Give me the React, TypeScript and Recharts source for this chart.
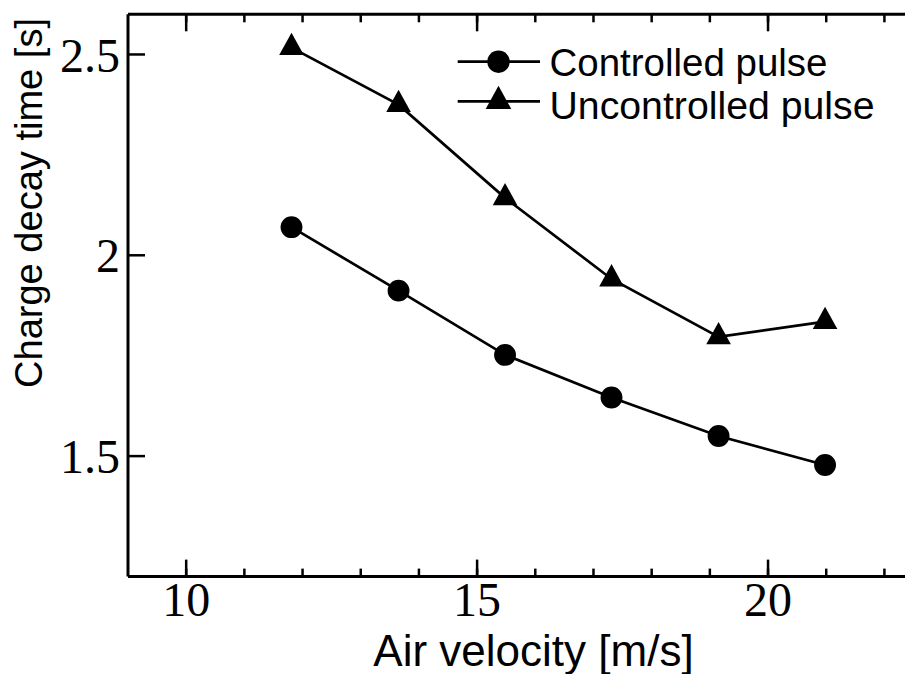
import React from 'react';
import { LineChart, Line, XAxis, YAxis, Legend } from 'recharts';

// values
const velocity = [11.81, 13.65, 15.48, 17.31, 19.15, 20.98];
const controlledPulse = [2.07, 1.912, 1.752, 1.646, 1.55, 1.478];
const uncontrolledPulse = [2.517, 2.375, 2.143, 1.941, 1.797, 1.835];

const xMajorTicks = [10, 15, 20];
const xMinorTicks = [10, 11, 12, 13, 14, 15, 16, 17, 18, 19, 20, 21, 22];
const yMajorTicks = [1.5, 2, 2.5];
const yMinorTicks = [1.3, 1.4, 1.5, 1.6, 1.7, 1.8, 1.9, 2, 2.1, 2.2, 2.3, 2.4, 2.5];

const data = velocity.map((v, i) => ({
  velocity: v,
  controlled: controlledPulse[i],
  uncontrolled: uncontrolledPulse[i],
}));

const W = 940;
const H = 674;
// every axis takes 1px, two per side
const margin = { top: 14.3 - 2, right: W - 913.5 - 2, bottom: H - 576.6 - 2, left: 128 - 2 };

const SANS = '"Liberation Sans", Arial, sans-serif';
const SERIF = '"Liberation Serif", "Times New Roman", serif';

const axisLine = { stroke: '#000', strokeWidth: 3 };
const tickLine = { stroke: '#000', strokeWidth: 2.5 };
const tickFont = { fill: '#000', fontSize: 48, fontFamily: SERIF };
const noLabel = () => '';

const TriangleDot = (props: any) => {
  const { cx, cy, index } = props;
  if (cx == null || cy == null) return null;
  const h = 22.3;
  const hw = 12.3;
  return (
    <polygon
      key={`tri-${index}`}
      points={`${cx},${cy - (h * 2) / 3} ${cx - hw},${cy + h / 3} ${cx + hw},${cy + h / 3}`}
      fill="#000"
    />
  );
};

// legend drawn by hand so the markers sit on the lines like the original
const legendMarkerY = [61.7, 101.3];
const legendTextY = [75.5, 118.5];
const legendTextLen = [278, 325];

const renderLegend = (props: any) => {
  const { payload = [] } = props;
  return (
    <svg width={905} height={140} style={{ overflow: 'visible', display: 'block' }}>
      {payload.map((entry: any, i: number) => {
        const y = legendMarkerY[i];
        return (
          <g key={`leg-${i}`}>
            <line x1={457.7} x2={540} y1={y} y2={y} stroke="#000" strokeWidth={2.7} />
            {i === 0 ? (
              <circle cx={498.5} cy={y} r={11.2} fill="#000" />
            ) : (
              <polygon
                points={`498.5,${y - 15.5} ${498.5 - 12.8},${y + 7.8} ${498.5 + 12.8},${y + 7.8}`}
                fill="#000"
              />
            )}
            <text
              x={549.5}
              y={legendTextY[i]}
              fontSize={38}
              fontFamily={SANS}
              fill="#000"
              textLength={legendTextLen[i]}
              lengthAdjust="spacingAndGlyphs"
            >
              {entry.value}
            </text>
          </g>
        );
      })}
    </svg>
  );
};

export default function App() {
  return (
    <div
      style={{
        position: 'fixed',
        left: 0,
        top: 0,
        width: 905,
        height: 674,
        overflow: 'hidden',
        background: '#fff',
      }}
    >
      <LineChart width={W} height={H} data={data} margin={margin}>
        {/* bottom: major ticks with labels, then minor ticks */}
        <XAxis
          xAxisId="b"
          dataKey="velocity"
          type="number"
          domain={[9, 22.5]}
          ticks={xMajorTicks}
          interval={0}
          height={1}
          tickSize={-17}
          tickMargin={22}
          axisLine={axisLine}
          tickLine={tickLine}
          tick={tickFont}
          label={{
            content: () => (
              <text x={533.5} y={666} textAnchor="middle" fontSize={44} fontFamily={SANS} fill="#000">
                Air velocity [m/s]
              </text>
            ),
          }}
        />
        <XAxis
          xAxisId="bm"
          dataKey="velocity"
          type="number"
          domain={[9, 22.5]}
          ticks={xMinorTicks}
          interval={0}
          height={1}
          tickSize={-9}
          axisLine={false}
          tickLine={tickLine}
          tickFormatter={noLabel}
        />
        <XAxis
          xAxisId="t"
          orientation="top"
          dataKey="velocity"
          type="number"
          domain={[9, 22.5]}
          ticks={xMajorTicks}
          interval={0}
          height={1}
          tickSize={-17}
          axisLine={axisLine}
          tickLine={tickLine}
          tickFormatter={noLabel}
        />
        <XAxis
          xAxisId="tm"
          orientation="top"
          dataKey="velocity"
          type="number"
          domain={[9, 22.5]}
          ticks={xMinorTicks}
          interval={0}
          height={1}
          tickSize={-9}
          axisLine={false}
          tickLine={tickLine}
          tickFormatter={noLabel}
        />

        <YAxis
          yAxisId="l"
          type="number"
          domain={[1.2, 2.6]}
          ticks={yMajorTicks}
          interval={0}
          width={1}
          tickSize={-17}
          tickMargin={25}
          axisLine={axisLine}
          tickLine={tickLine}
          tick={tickFont}
          label={{
            content: () => (
              <text
                x={42}
                y={203}
                transform="rotate(-90, 42, 203)"
                textAnchor="middle"
                fontSize={38}
                fontFamily={SANS}
                fill="#000"
                textLength={370}
                lengthAdjust="spacingAndGlyphs"
              >
                Charge decay time [s]
              </text>
            ),
          }}
        />
        <YAxis
          yAxisId="lm"
          type="number"
          domain={[1.2, 2.6]}
          ticks={yMinorTicks}
          interval={0}
          width={1}
          tickSize={-9}
          axisLine={false}
          tickLine={tickLine}
          tickFormatter={noLabel}
        />
        <YAxis
          yAxisId="r"
          orientation="right"
          type="number"
          domain={[1.2, 2.6]}
          ticks={yMajorTicks}
          interval={0}
          width={1}
          tickSize={-17}
          axisLine={axisLine}
          tickLine={tickLine}
          tickFormatter={noLabel}
        />
        <YAxis
          yAxisId="rm"
          orientation="right"
          type="number"
          domain={[1.2, 2.6]}
          ticks={yMinorTicks}
          interval={0}
          width={1}
          tickSize={-9}
          axisLine={false}
          tickLine={tickLine}
          tickFormatter={noLabel}
        />

        <Legend
          layout="vertical"
          align="center"
          verticalAlign="middle"
          content={renderLegend}
          wrapperStyle={{ left: 0, top: 0, width: 905, height: 140 }}
        />

        <Line
          xAxisId="b"
          yAxisId="l"
          type="linear"
          dataKey="controlled"
          name="Controlled pulse"
          stroke="#000"
          strokeWidth={2.7}
          dot={{ r: 9.6, fill: '#000', stroke: '#000' }}
          activeDot={false}
          isAnimationActive={false}
        />
        <Line
          xAxisId="b"
          yAxisId="l"
          type="linear"
          dataKey="uncontrolled"
          name="Uncontrolled pulse"
          stroke="#000"
          strokeWidth={2.7}
          dot={TriangleDot}
          activeDot={false}
          isAnimationActive={false}
        />
      </LineChart>
    </div>
  );
}
